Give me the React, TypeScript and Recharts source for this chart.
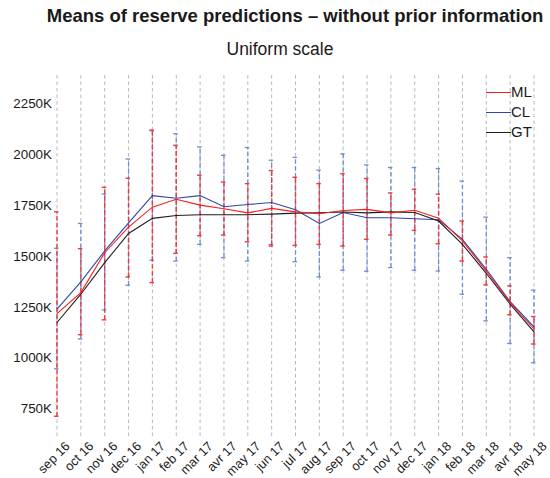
import React from "react";
import {
  LineChart,
  Line,
  XAxis,
  YAxis,
  CartesianGrid,
  ErrorBar,
  Legend,
} from "recharts";

// values in thousands
const months = [
  "sep 16", "oct 16", "nov 16", "dec 16", "jan 17", "feb 17", "mar 17",
  "avr 17", "may 17", "jun 17", "jul 17", "aug 17", "sep 17", "oct 17",
  "nov 17", "dec 17", "jan 18", "feb 18", "mar 18", "avr 18", "may 18",
];

const mlMean = [1217, 1320, 1516, 1642, 1740, 1779, 1750, 1732, 1712, 1734, 1717, 1708, 1724, 1729, 1712, 1725, 1686, 1574, 1426, 1271, 1141];
const clMean = [1239, 1373, 1525, 1663, 1797, 1784, 1797, 1742, 1753, 1763, 1727, 1660, 1714, 1688, 1688, 1683, 1678, 1582, 1435, 1276, 1152];
const gtMean = [1173, 1312, 1467, 1611, 1685, 1699, 1703, 1703, 1703, 1706, 1711, 1713, 1716, 1712, 1717, 1714, 1672, 1557, 1415, 1263, 1127];

const mlLow = [712, 1113, 1186, 1397, 1369, 1513, 1600, 1603, 1570, 1549, 1552, 1557, 1549, 1582, 1603, 1626, 1560, 1475, 1358, 1211, 1067];
const mlHigh = [1717, 1536, 1838, 1882, 2119, 2044, 1897, 1864, 1856, 1920, 1887, 1856, 1905, 1881, 1810, 1828, 1804, 1672, 1495, 1353, 1202];
const clLow = [945, 1092, 1235, 1356, 1479, 1475, 1557, 1492, 1475, 1556, 1472, 1397, 1430, 1425, 1443, 1430, 1426, 1312, 1181, 1070, 975];
const clHigh = [1538, 1660, 1805, 1977, 2116, 2101, 2036, 1995, 2033, 1971, 1985, 1922, 2002, 1948, 1935, 1935, 1930, 1868, 1691, 1492, 1332];

const yTicks = [750, 1000, 1250, 1500, 1750, 2000, 2250];

const ML_COLOR = "#f41f1f";
const CL_COLOR = "#2a49a6";
const GT_COLOR = "#1e1e1e";

const legendItems = [
  { name: "ML", color: ML_COLOR },
  { name: "CL", color: CL_COLOR },
  { name: "GT", color: GT_COLOR },
];

const data = months.map((m, i) => ({
  i,
  ml: mlMean[i],
  cl: clMean[i],
  gt: gtMean[i],
  mlErr: [mlMean[i] - mlLow[i], mlHigh[i] - mlMean[i]],
  clErr: [clMean[i] - clLow[i], clHigh[i] - clMean[i]],
}));

const FONT = "'Liberation Sans', Arial, Helvetica, sans-serif";

const MonthTick = ({ x, y, payload }: any) => {
  const ax = x + 13.5;
  const ay = y + 9;
  return (
    <text
      x={ax}
      y={ay}
      textAnchor="end"
      fontSize={12.8}
      fill="#1a1a1a"
      fontFamily={FONT}
      transform={`rotate(-45 ${ax} ${ay})`}
    >
      {months[payload.value]}
    </text>
  );
};

const LegendBox = () => (
  <div style={{ fontFamily: FONT }}>
    {legendItems.map((it) => (
      <div
        key={it.name}
        style={{ display: "flex", alignItems: "center", height: 20 }}
      >
        <span
          style={{
            display: "inline-block",
            width: 25,
            borderTop: `1px solid ${it.color}`,
          }}
        />
        <span style={{ fontSize: 15, color: "#1a1a1a", lineHeight: "20px" }}>
          {it.name}
        </span>
      </div>
    ))}
  </div>
);

export default function App() {
  return (
    <div
      style={{
        position: "absolute",
        left: 0,
        top: 0,
        width: 550,
        height: 478,
        background: "#fff",
        fontFamily: FONT,
      }}
    >
      <LineChart
        width={550}
        height={478}
        data={data}
        margin={{ top: 75, right: 16, bottom: 0, left: 0 }}
      >
        <CartesianGrid
          horizontal={false}
          strokeDasharray="3.5 3"
          stroke="#b8b8b8"
        />
        <XAxis
          dataKey="i"
          type="number"
          domain={[0, 20]}
          ticks={months.map((_, i) => i)}
          interval={0}
          axisLine={false}
          tickLine={false}
          tickSize={0}
          tickMargin={0}
          height={40}
          tick={<MonthTick />}
        />
        <YAxis
          type="number"
          domain={[605, 2390]}
          ticks={yTicks}
          allowDataOverflow
          axisLine={false}
          tickLine={false}
          tickSize={0}
          tickMargin={5}
          width={57}
          tick={{ fontSize: 13.4, fill: "#1a1a1a", fontFamily: FONT }}
          tickFormatter={(v: number) => `${v}K`}
        />
        <Legend
          layout="vertical"
          align="center"
          verticalAlign="middle"
          wrapperStyle={{ left: 486, top: 82, width: 60 }}
          content={<LegendBox />}
        />
        {/* error bars, carried by invisible lines */}
        <Line
          dataKey="cl"
          stroke="none"
          dot={false}
          legendType="none"
          isAnimationActive={false}
        >
          <ErrorBar
            dataKey="clErr"
            width={3}
            stroke="#6f8dd2"
            strokeWidth={1.3}
            strokeDasharray="4.5 2.5"
            isAnimationActive={false}
          />
        </Line>
        <Line
          dataKey="ml"
          stroke="none"
          dot={false}
          legendType="none"
          isAnimationActive={false}
        >
          <ErrorBar
            dataKey="mlErr"
            width={3}
            stroke="#f03a3a"
            strokeWidth={1.4}
            strokeDasharray="4.5 2.5"
            isAnimationActive={false}
          />
        </Line>
        <Line
          type="linear"
          dataKey="cl"
          name="CL"
          stroke={CL_COLOR}
          strokeWidth={1.1}
          dot={false}
          isAnimationActive={false}
        />
        <Line
          type="linear"
          dataKey="gt"
          name="GT"
          stroke={GT_COLOR}
          strokeWidth={1.1}
          dot={false}
          isAnimationActive={false}
        />
        <Line
          type="linear"
          dataKey="ml"
          name="ML"
          stroke={ML_COLOR}
          strokeWidth={1.1}
          dot={false}
          isAnimationActive={false}
        />
      </LineChart>
      <svg
        width={550}
        height={80}
        style={{ position: "absolute", left: 0, top: 0, pointerEvents: "none" }}
      >
        <text
          x={295}
          y={21.5}
          textAnchor="middle"
          fontSize={18.5}
          fontWeight="bold"
          fill="#1a1a1a"
          fontFamily={FONT}
        >
          Means of reserve predictions – without prior information
        </text>
        <text
          x={280}
          y={55}
          textAnchor="middle"
          fontSize={17.5}
          fill="#1a1a1a"
          fontFamily={FONT}
        >
          Uniform scale
        </text>
      </svg>
    </div>
  );
}
